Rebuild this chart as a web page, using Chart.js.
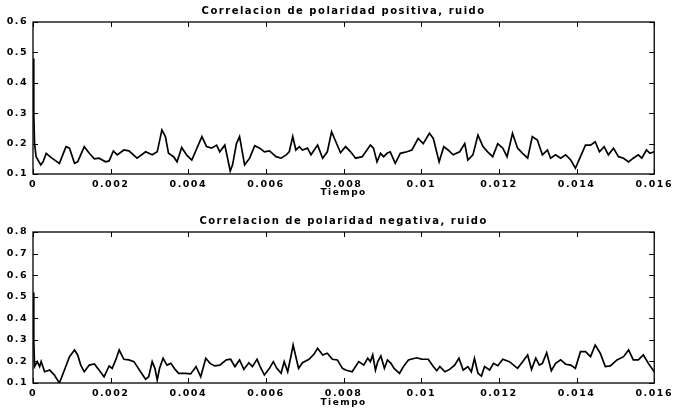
<!DOCTYPE html>
<html>
<head>
<meta charset="utf-8">
<script src="https://cdn.jsdelivr.net/npm/chart.js@4"></script>
<style>
  html, body { margin: 0; padding: 0; background: #fff; }
  #wrap { position: relative; width: 678px; height: 412px; background: #fff; overflow: hidden; }
  canvas { position: absolute; left: 0; }
</style>
</head>
<body>
<div id="wrap">
  <canvas id="c1" width="678" height="202" style="top:0px"></canvas>
  <canvas id="c2" width="678" height="202" style="top:210px"></canvas>
</div>
<script>
// ---- data ----
const titlePos = 'Correlacion de polaridad positiva, ruido';
const titleNeg = 'Correlacion de polaridad negativa, ruido';
const xAxisTitle = 'Tiempo';

const xTickValues = [0, 0.002, 0.004, 0.006, 0.008, 0.01, 0.012, 0.014, 0.016];
const xTickLabels = ['0', '0.002', '0.004', '0.006', '0.008', '0.01', '0.012', '0.014', '0.016'];

const posYTickValues = [0.1, 0.2, 0.3, 0.4, 0.5, 0.6];
const posYTickLabels = ['0.1', '0.2', '0.3', '0.4', '0.5', '0.6'];
const negYTickValues = [0.1, 0.2, 0.3, 0.4, 0.5, 0.6, 0.7, 0.8];
const negYTickLabels = ['0.1', '0.2', '0.3', '0.4', '0.5', '0.6', '0.7', '0.8'];

const posTime = [0, 0.00002, 0.00004, 0.00008, 0.0002, 0.00026, 0.00034, 0.00047, 0.00068, 0.00085,
  0.00094, 0.00107, 0.00115, 0.00132, 0.00145, 0.00158, 0.0017, 0.00187, 0.00196, 0.00207,
  0.00217, 0.00234, 0.00247, 0.00268, 0.0029, 0.00307, 0.0032, 0.00332, 0.00341, 0.00349,
  0.00362, 0.00371, 0.00383, 0.00396, 0.00409, 0.00435, 0.00447, 0.0046, 0.00473, 0.00481,
  0.00494, 0.00508, 0.00514, 0.00524, 0.00532, 0.00545, 0.00558, 0.00571, 0.00584, 0.00596,
  0.00609, 0.00626, 0.00639, 0.00652, 0.0066, 0.00669, 0.00677, 0.00686, 0.00694, 0.00707,
  0.00716, 0.00733, 0.00746, 0.00758, 0.00769, 0.0078, 0.00792, 0.00805, 0.00818, 0.00831,
  0.00848, 0.00869, 0.00877, 0.00886, 0.00895, 0.00903, 0.00912, 0.0092, 0.00933, 0.00946,
  0.00963, 0.00976, 0.00992, 0.01005, 0.01021, 0.01031, 0.01046, 0.01058, 0.01069, 0.01082,
  0.01099, 0.01112, 0.0112, 0.01133, 0.01146, 0.01159, 0.01171, 0.01184, 0.01197, 0.0121,
  0.01221, 0.01235, 0.01248, 0.01261, 0.01274, 0.01286, 0.01299, 0.01312, 0.01325, 0.01333,
  0.01346, 0.01359, 0.01372, 0.01385, 0.01397, 0.0141, 0.01423, 0.01436, 0.01448, 0.01459,
  0.01471, 0.01482, 0.01495, 0.01508, 0.01521, 0.01534, 0.01546, 0.01559, 0.01568, 0.0158,
  0.01589, 0.016];
const posValue = [0.48, 0.3, 0.2, 0.157, 0.13, 0.14, 0.168, 0.154, 0.135, 0.19,
  0.185, 0.135, 0.14, 0.19, 0.168, 0.15, 0.152, 0.14, 0.143, 0.176,
  0.163, 0.179, 0.176, 0.152, 0.173, 0.163, 0.173, 0.245, 0.223, 0.168,
  0.157, 0.14, 0.187, 0.162, 0.146, 0.223, 0.19, 0.185, 0.195, 0.173,
  0.195, 0.11, 0.13, 0.2, 0.223, 0.13, 0.152, 0.193, 0.185, 0.173,
  0.176, 0.157, 0.152, 0.163, 0.173, 0.223, 0.179, 0.19, 0.179, 0.185,
  0.163, 0.195, 0.152, 0.173, 0.239, 0.206, 0.17, 0.19, 0.173, 0.152,
  0.157, 0.195, 0.185, 0.14, 0.168, 0.157, 0.168, 0.173, 0.135, 0.168,
  0.173, 0.179, 0.217, 0.2, 0.234, 0.217, 0.14, 0.19, 0.179, 0.163,
  0.173, 0.2, 0.146, 0.163, 0.228, 0.19, 0.173, 0.157, 0.2, 0.185,
  0.157, 0.234, 0.185, 0.168, 0.152, 0.223, 0.212, 0.163, 0.179, 0.152,
  0.163, 0.152, 0.163, 0.146, 0.119, 0.157, 0.195, 0.195, 0.206, 0.173,
  0.19, 0.163, 0.185, 0.157, 0.152, 0.14, 0.152, 0.163, 0.152, 0.179,
  0.168, 0.173];

const negTime = [0, 0.00002, 0.00004, 0.00011, 0.00017, 0.00021, 0.0003, 0.00043, 0.00055, 0.00068,
  0.00081, 0.00094, 0.00107, 0.00115, 0.00123, 0.00132, 0.00145, 0.00158, 0.0017, 0.00183,
  0.00196, 0.00204, 0.00213, 0.00222, 0.00234, 0.00247, 0.0026, 0.00277, 0.0029, 0.00298,
  0.00307, 0.00314, 0.0032, 0.00326, 0.00335, 0.00345, 0.00355, 0.00366, 0.00375, 0.00392,
  0.00406, 0.0042, 0.00432, 0.00445, 0.00456, 0.00468, 0.00481, 0.00498, 0.00509, 0.0052,
  0.00532, 0.00543, 0.00556, 0.00565, 0.00577, 0.00585, 0.00596, 0.00609, 0.00619, 0.00628,
  0.00639, 0.00647, 0.00656, 0.00665, 0.0067, 0.00677, 0.00684, 0.00694, 0.00711, 0.00724,
  0.00733, 0.00746, 0.00758, 0.00771, 0.00784, 0.00797, 0.00805, 0.00822, 0.00839, 0.00852,
  0.00862, 0.00869, 0.00875, 0.00882, 0.00888, 0.00896, 0.00905, 0.00913, 0.00922, 0.0093,
  0.00944, 0.00954, 0.00967, 0.00988, 0.01001, 0.01018, 0.01031, 0.0104, 0.01048, 0.01061,
  0.01073, 0.01086, 0.01097, 0.01108, 0.0112, 0.01129, 0.01137, 0.01146, 0.01155, 0.01163,
  0.01176, 0.01186, 0.01197, 0.0121, 0.01227, 0.01248, 0.01261, 0.01274, 0.01284, 0.01295,
  0.01304, 0.01312, 0.01323, 0.01335, 0.01346, 0.01359, 0.01372, 0.01385, 0.01397, 0.0141,
  0.01423, 0.01436, 0.01448, 0.01461, 0.01474, 0.01487, 0.01504, 0.01521, 0.01534, 0.01546,
  0.01559, 0.01572, 0.01585, 0.016];
const negValue = [0.52, 0.3, 0.176, 0.199, 0.176, 0.2, 0.152, 0.16, 0.137, 0.1,
  0.16, 0.222, 0.253, 0.23, 0.183, 0.152, 0.183, 0.188, 0.16, 0.129,
  0.179, 0.168, 0.207, 0.253, 0.21, 0.207, 0.199, 0.152, 0.117, 0.129,
  0.199, 0.168, 0.114, 0.168, 0.215, 0.183, 0.191, 0.163, 0.145, 0.145,
  0.142, 0.176, 0.129, 0.215, 0.191, 0.179, 0.183, 0.207, 0.21, 0.176,
  0.207, 0.163, 0.194, 0.176, 0.21, 0.176, 0.137, 0.168, 0.199, 0.168,
  0.145, 0.199, 0.152, 0.23, 0.276, 0.222, 0.168, 0.194, 0.21, 0.234,
  0.261, 0.23, 0.238, 0.21, 0.207, 0.168, 0.16, 0.152, 0.199, 0.183,
  0.215, 0.199, 0.23, 0.16, 0.199, 0.225, 0.168, 0.207, 0.191, 0.168,
  0.145, 0.176, 0.207, 0.217, 0.211, 0.21, 0.176, 0.157, 0.176, 0.152,
  0.163, 0.183, 0.215, 0.16, 0.176, 0.152, 0.215, 0.145, 0.132, 0.176,
  0.16, 0.191, 0.18, 0.21, 0.199, 0.168, 0.199, 0.23, 0.163, 0.215,
  0.183, 0.191, 0.24, 0.157, 0.191, 0.207, 0.187, 0.183, 0.168, 0.245,
  0.245, 0.222, 0.276, 0.238, 0.176, 0.179, 0.207, 0.222, 0.253, 0.207,
  0.207, 0.23, 0.191, 0.152];

// ---- rendering ----
const FONT = 'DejaVu Sans';
const SPACING = '1.5px';

const spacingPlugin = {
  id: 'spacing',
  beforeUpdate(c) { c.ctx.letterSpacing = SPACING; },
  beforeDraw(c) { c.ctx.letterSpacing = SPACING; }
};

const framePlugin = {
  id: 'frame',
  afterDatasetsDraw(c) {
    const ctx = c.ctx, a = c.chartArea;
    const xs = c.scales.x, ys = c.scales.y;
    const L = 5;
    ctx.save();
    ctx.strokeStyle = '#000';
    ctx.lineWidth = 1;
    ctx.beginPath();
    xs.ticks.forEach(t => {
      const px = Math.round(xs.getPixelForValue(t.value)) + 0.5;
      ctx.moveTo(px, a.bottom); ctx.lineTo(px, a.bottom - L);
      ctx.moveTo(px, a.top); ctx.lineTo(px, a.top + L);
    });
    ys.ticks.forEach(t => {
      const py = Math.round(ys.getPixelForValue(t.value)) + 0.5;
      ctx.moveTo(a.left, py); ctx.lineTo(a.left + L, py);
      ctx.moveTo(a.right, py); ctx.lineTo(a.right - L, py);
    });
    ctx.stroke();
    ctx.lineWidth = 1.3;
    ctx.strokeRect(a.left, a.top, a.right - a.left, a.bottom - a.top);
    ctx.restore();
  }
};

function makeChart(id, title, times, values, yVals, yLabels, plotBottom) {
  const pts = times.map((t, i) => ({ x: t, y: values[i] }));
  return new Chart(document.getElementById(id), {
    type: 'line',
    data: { datasets: [{ data: pts, borderColor: '#000', borderWidth: 1.7, pointRadius: 0, tension: 0, fill: false }] },
    options: {
      responsive: false,
      animation: false,
      devicePixelRatio: 1,
      layout: { padding: { left: 0, right: 19, top: 0, bottom: 0 } },
      plugins: { legend: { display: false }, tooltip: { enabled: false }, title: { display: false } },
      scales: {
        x: {
          type: 'linear', position: 'bottom',
          min: xTickValues[0], max: xTickValues[xTickValues.length - 1],
          afterBuildTicks: s => { s.ticks = xTickValues.map(v => ({ value: v })); },
          afterFit: s => { s.height = 202 - plotBottom; },
          grid: { display: false, drawTicks: false },
          border: { display: false },
          ticks: { padding: 5, color: '#000', maxRotation: 0, autoSkip: false,
                   font: { family: FONT, size: 9.5, weight: 'bold' },
                   callback: (v, i) => xTickLabels[i] },
          title: { display: true, text: xAxisTitle, color: '#000',
                   font: { family: FONT, size: 9, weight: 'bold' },
                   padding: { top: 0, bottom: 4 } }
        },
        top: {
          type: 'linear', position: 'top', min: 0, max: 1,
          afterFit: s => { s.height = 22; },
          grid: { display: false, drawTicks: false },
          border: { display: false },
          ticks: { display: false },
          title: { display: true, text: title, color: '#000',
                   font: { family: FONT, size: 10, weight: 'bold' },
                   padding: { top: 5, bottom: 0 } }
        },
        y: {
          type: 'linear', position: 'left',
          min: yVals[0], max: yVals[yVals.length - 1],
          afterBuildTicks: s => { s.ticks = yVals.map(v => ({ value: v })); },
          afterFit: s => { s.width = 33; },
          grid: { display: false, drawTicks: false },
          border: { display: false },
          ticks: { padding: 5, color: '#000', autoSkip: false,
                   font: { family: FONT, size: 9.5, weight: 'bold' },
                   callback: (v, i) => yLabels[i] }
        }
      }
    },
    plugins: [spacingPlugin, framePlugin]
  });
}

makeChart('c1', titlePos, posTime, posValue, posYTickValues, posYTickLabels, 174);
makeChart('c2', titleNeg, negTime, negValue, negYTickValues, negYTickLabels, 173);
</script>
</body>
</html>
